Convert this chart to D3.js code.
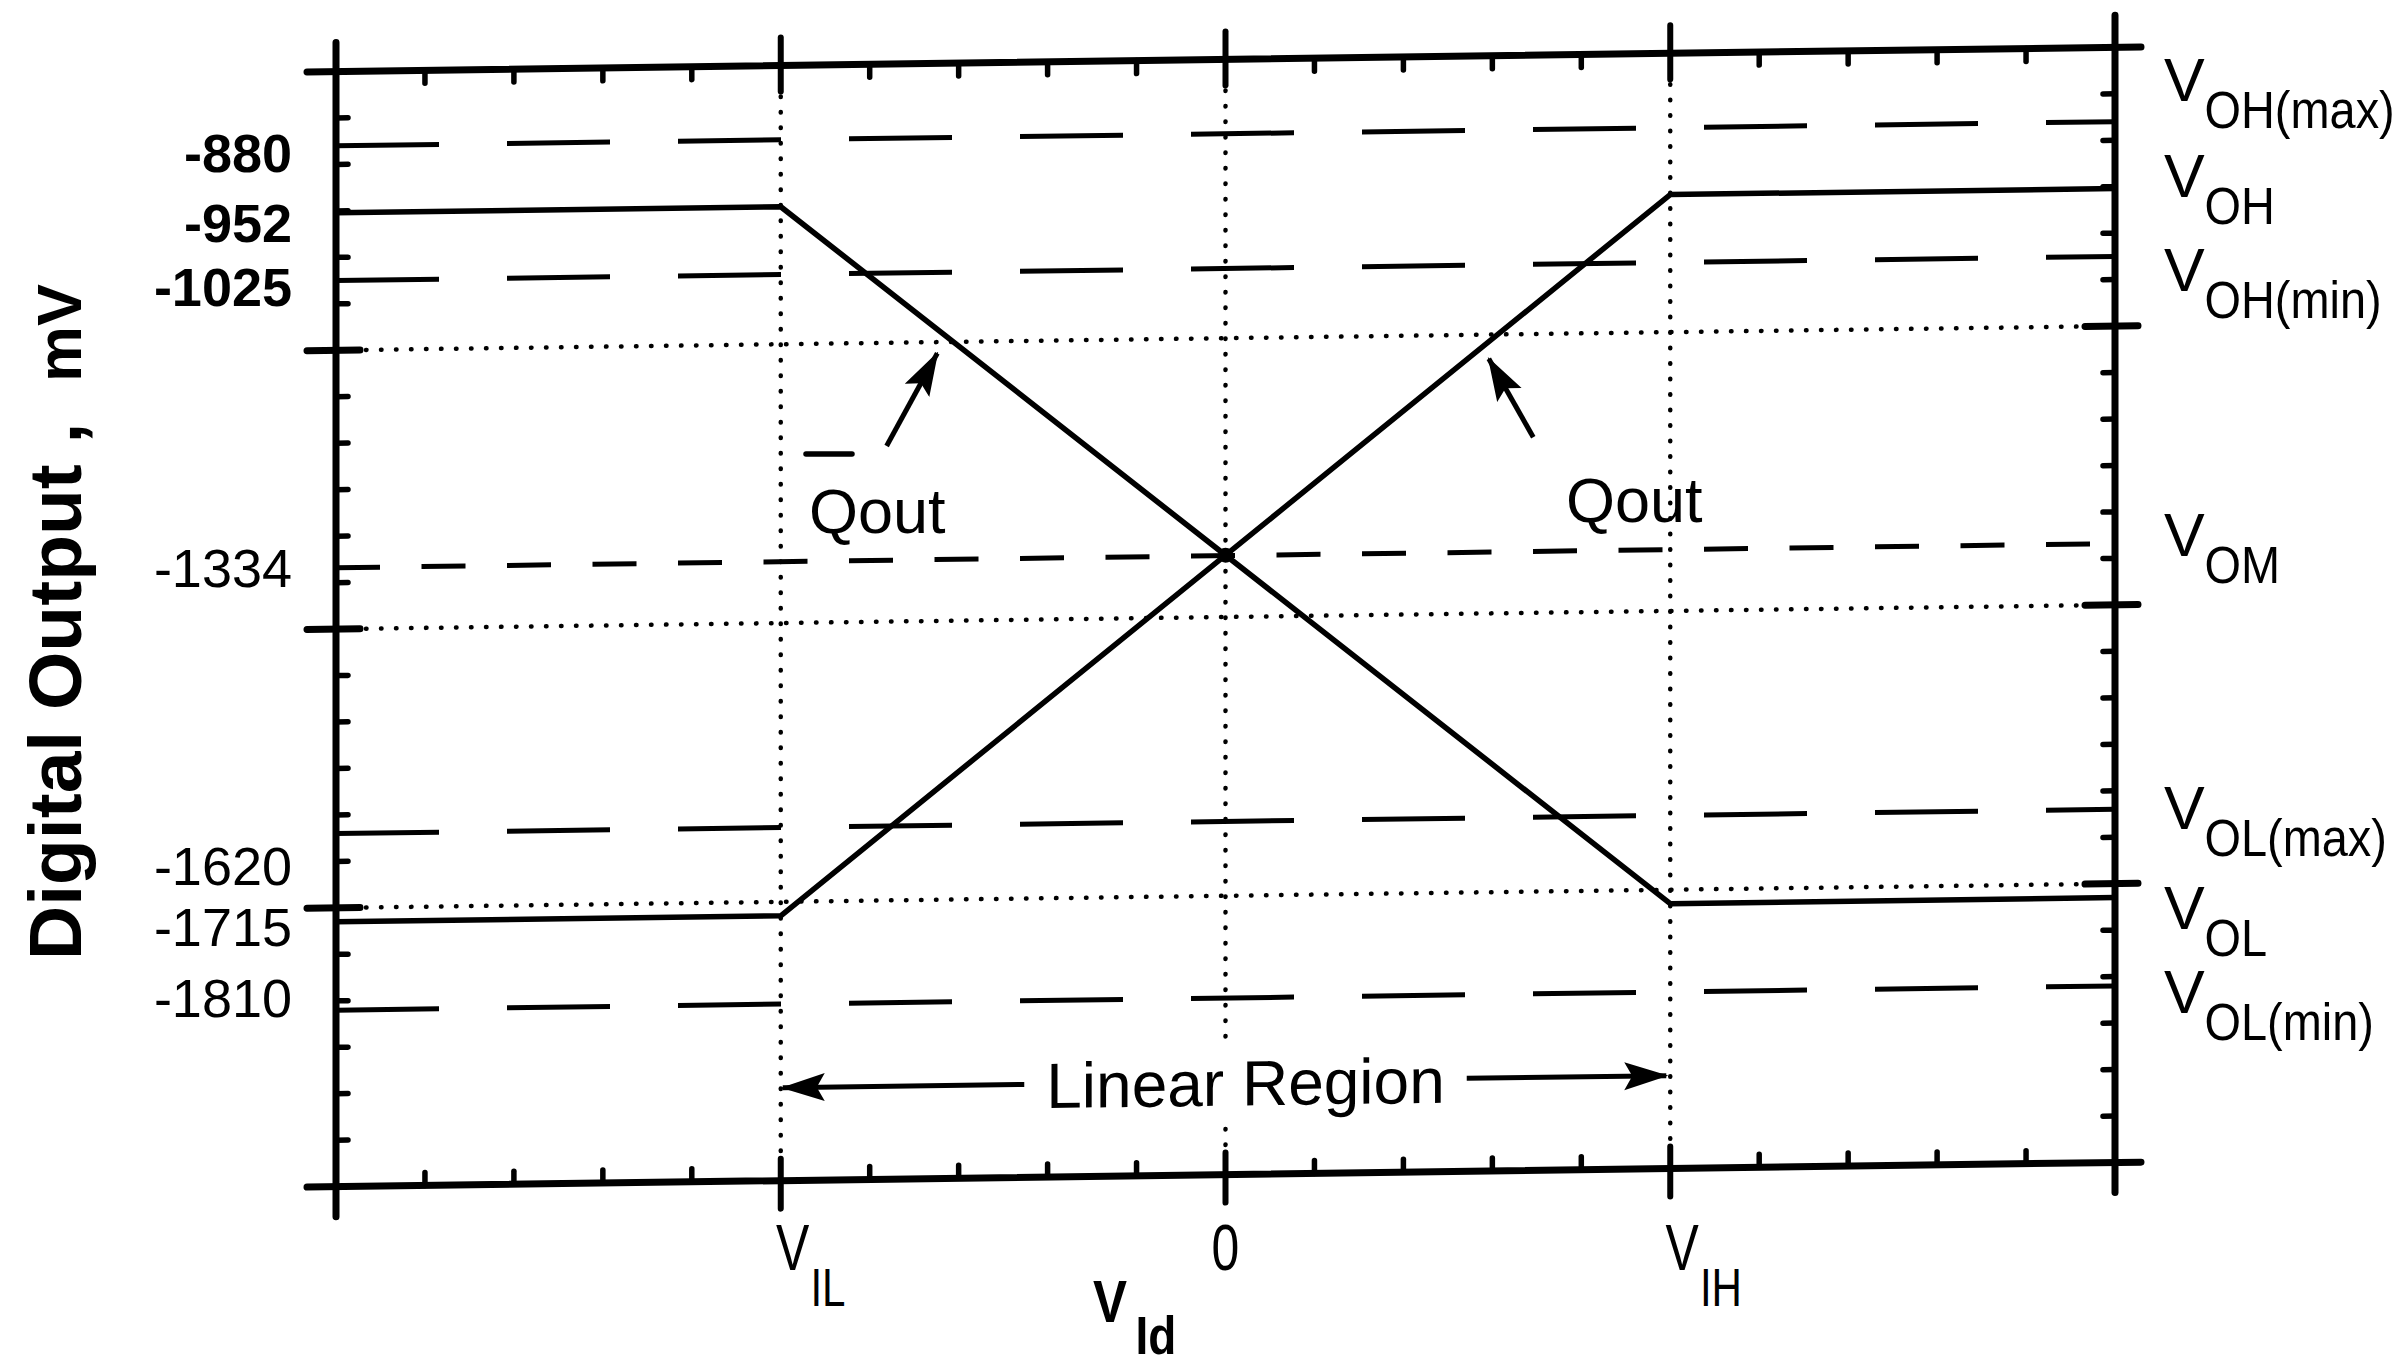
<!DOCTYPE html>
<html>
<head>
<meta charset="utf-8">
<script src="https://cdn.jsdelivr.net/npm/d3@7/dist/d3.min.js"></script>
<style>
  html, body { margin: 0; padding: 0; background: #fff; }
  svg { display: block; }
  text { font-family: "Liberation Sans", Arial, Helvetica, sans-serif; fill: #000; }
</style>
</head>
<body>
<svg id="chart" width="2407" height="1369"></svg>
<script>
// ---- data ---------------------------------------------------------------
// differential input voltage, normalised units (VIL = -5, VIH = +5)
const xDomain = [-10, 10];
const xMajorTicks = [-5, 0, 5];
const xTickMain = ["V", "0", "V"];
const xTickSub = ["IL", "", "IH"];

// output voltage, mV
const yDomain = [-2000, -800];
const yMinorStep = 50;
const yMajorTicks = [-1100, -1400, -1700];

// specified output levels
const levelValues = [-880, -952, -1025, -1334, -1620, -1715, -1810];
const levelTickLabels = ["-880", "-952", "-1025", "-1334", "-1620", "-1715", "-1810"];
const levelNames = ["OH(max)", "OH", "OH(min)", "OM", "OL(max)", "OL", "OL(min)"];
const levelStyles = ["long", "none", "long", "short", "long", "none", "long"];

// transfer curves
const curveX = [-10, -5, 5, 10];
const qoutY = [-1715, -1715, -952, -952];
const qoutBarY = [-952, -952, -1715, -1715];

// ---- layout -------------------------------------------------------------
const svg = d3.select("#chart");
const x = d3.scaleLinear().domain(xDomain).range([336, 2115]);
const y = d3.scaleLinear().domain(yDomain).range([1186.7, 71.5]);
const skewDeg = -0.78;
const skewTan = Math.tan(skewDeg * Math.PI / 180);
const yAtRight = v => y(v) + skewTan * (x(10) - x(-10));

const ink = "#000";
const defs = svg.append("defs");
defs.append("marker")
  .attr("id", "head").attr("viewBox", "0 0 44 30")
  .attr("refX", 42).attr("refY", 15)
  .attr("markerUnits", "userSpaceOnUse")
  .attr("markerWidth", 44).attr("markerHeight", 30)
  .attr("orient", "auto")
  .append("path").attr("d", "M0,1 L44,15 L0,29 L8,15 Z").attr("fill", ink);

const plot = svg.append("g")
  .attr("transform", `translate(${x(-10)},0) skewY(${skewDeg}) translate(${-x(-10)},0)`);

// dotted grid at the major divisions
plot.append("g").selectAll("line").data(yMajorTicks).join("line")
  .attr("x1", x(xDomain[0])).attr("x2", x(xDomain[1]))
  .attr("y1", d => y(d)).attr("y2", d => y(d))
  .attr("stroke", ink).attr("stroke-width", 4.5)
  .attr("stroke-linecap", "round").attr("stroke-dasharray", "0.5 14.5");
plot.append("g").selectAll("line").data(xMajorTicks).join("line")
  .attr("x1", d => x(d)).attr("x2", d => x(d))
  .attr("y1", y(yDomain[1])).attr("y2", y(yDomain[0]))
  .attr("stroke", ink).attr("stroke-width", 4.5)
  .attr("stroke-linecap", "round").attr("stroke-dasharray", "0.5 15");

// dashed specification levels
const levels = levelValues.map((v, i) => ({ v, style: levelStyles[i] }))
  .filter(d => d.style !== "none");
plot.append("g").selectAll("line").data(levels).join("line")
  .attr("x1", x(xDomain[0])).attr("x2", x(xDomain[1]))
  .attr("y1", d => y(d.v)).attr("y2", d => y(d.v))
  .attr("stroke", ink).attr("stroke-width", 5)
  .attr("stroke-dasharray", d => d.style === "long" ? "103 68" : "44 41.5");

// Linear Region annotation (drawn before the curves, over the grid)
const regionY = -1900;
const regionText = plot.append("text")
  .attr("x", x(0) + 20).attr("y", y(regionY) + 24)
  .attr("text-anchor", "middle").attr("font-size", 64)
  .text("Linear Region");
const bb = regionText.node().getBBox();
plot.insert("rect", "text")
  .attr("x", bb.x - 10).attr("y", bb.y - 6)
  .attr("width", bb.width + 20).attr("height", bb.height + 12)
  .attr("fill", "#fff");
plot.append("line")
  .attr("x1", bb.x - 22).attr("x2", x(-5) + 2)
  .attr("y1", y(regionY)).attr("y2", y(regionY))
  .attr("stroke", ink).attr("stroke-width", 5).attr("marker-end", "url(#head)");
plot.append("line")
  .attr("x1", bb.x + bb.width + 22).attr("x2", x(5) - 4)
  .attr("y1", y(regionY)).attr("y2", y(regionY))
  .attr("stroke", ink).attr("stroke-width", 5).attr("marker-end", "url(#head)");

// transfer curves
const line = d3.line().x(d => x(d[0])).y(d => y(d[1]));
[qoutY, qoutBarY].forEach(ys => {
  plot.append("path")
    .attr("d", line(curveX.map((cx, i) => [cx, ys[i]])))
    .attr("fill", "none").attr("stroke", ink)
    .attr("stroke-width", 5.5).attr("stroke-linejoin", "round");
});
plot.append("circle")
  .attr("cx", x(0)).attr("cy", y((qoutY[1] + qoutY[2]) / 2))
  .attr("r", 7.5).attr("fill", ink);

// pointers to the curves
const pointers = [
  { from: [-3.81, -1211], to: [-3.24, -1112] },
  { from: [3.46, -1211], to: [2.96, -1126] }
];
plot.append("g").selectAll("line").data(pointers).join("line")
  .attr("x1", d => x(d.from[0])).attr("y1", d => y(d.from[1]))
  .attr("x2", d => x(d.to[0])).attr("y2", d => y(d.to[1]))
  .attr("stroke", ink).attr("stroke-width", 5).attr("marker-end", "url(#head)");

// frame: axes lines extend a little past the corners
const frame = plot.append("g").attr("stroke", ink).attr("stroke-linecap", "round");
const xl = x(xDomain[0]), xr = x(xDomain[1]), yt = y(yDomain[1]), yb = y(yDomain[0]);
[[xl - 29, yt, xr + 26, yt], [xl - 29, yb, xr + 26, yb],
 [xl, yt - 29, xl, yb + 30], [xr, yt - 32, xr, yb + 30]].forEach(s => {
  frame.append("line").attr("x1", s[0]).attr("y1", s[1]).attr("x2", s[2]).attr("y2", s[3])
    .attr("stroke-width", 7);
});

// x ticks
const xMinor = d3.range(xDomain[0] + 1, xDomain[1]).filter(v => !xMajorTicks.includes(v));
frame.append("g").selectAll("line").data(xMinor).join("line")
  .attr("x1", d => x(d)).attr("x2", d => x(d))
  .attr("y1", yt).attr("y2", yt + 13).attr("stroke-width", 5.5);
frame.append("g").selectAll("line").data(xMinor).join("line")
  .attr("x1", d => x(d)).attr("x2", d => x(d))
  .attr("y1", yb).attr("y2", yb - 13).attr("stroke-width", 5.5);
frame.append("g").selectAll("line").data(xMajorTicks).join("line")
  .attr("x1", d => x(d)).attr("x2", d => x(d))
  .attr("y1", yt - 28).attr("y2", yt + 26).attr("stroke-width", 6);
frame.append("g").selectAll("line").data(xMajorTicks).join("line")
  .attr("x1", d => x(d)).attr("x2", d => x(d))
  .attr("y1", yb - 22).attr("y2", yb + 28).attr("stroke-width", 6);

// y ticks
const yMinor = d3.range(yDomain[0] + yMinorStep, yDomain[1], yMinorStep)
  .filter(v => !yMajorTicks.includes(v));
frame.append("g").selectAll("line").data(yMinor).join("line")
  .attr("x1", xl).attr("x2", xl + 12)
  .attr("y1", d => y(d)).attr("y2", d => y(d)).attr("stroke-width", 5.5);
frame.append("g").selectAll("line").data(yMinor).join("line")
  .attr("x1", xr).attr("x2", xr - 12)
  .attr("y1", d => y(d)).attr("y2", d => y(d)).attr("stroke-width", 5.5);
frame.append("g").selectAll("line").data(yMajorTicks).join("line")
  .attr("x1", xl - 29).attr("x2", xl + 24)
  .attr("y1", d => y(d)).attr("y2", d => y(d)).attr("stroke-width", 7);
frame.append("g").selectAll("line").data(yMajorTicks).join("line")
  .attr("x1", xr - 30).attr("x2", xr + 23)
  .attr("y1", d => y(d)).attr("y2", d => y(d)).attr("stroke-width", 7);

// curve names (left one is the complement, Q-bar)
svg.append("text").attr("x", 809).attr("y", 533)
  .attr("font-size", 63).text("Qout");
svg.append("line").attr("x1", 806).attr("x2", 852).attr("y1", 454).attr("y2", 454)
  .attr("stroke", ink).attr("stroke-width", 5.5).attr("stroke-linecap", "round");
svg.append("text").attr("x", 1566).attr("y", 522)
  .attr("font-size", 63).text("Qout");

// ---- text outside the plot ----------------------------------------------
// left value labels, nudged clear of one another
const leftNudge = [26, 29, 25, 19, 51, 24, 7];
svg.append("g").selectAll("text").data(levelValues).join("text")
  .attr("x", 292).attr("y", (d, i) => y(d) + leftNudge[i])
  .attr("text-anchor", "end").attr("font-size", 54)
  .attr("font-weight", (d, i) => i < 3 ? "bold" : "normal")
  .text((d, i) => levelTickLabels[i]);

// right level names
const rightNudge = [-21, 8, 35, 12, 20, 31, 27];
const rg = svg.append("g").selectAll("g").data(levelValues).join("g")
  .attr("transform", (d, i) => `translate(2164,${yAtRight(d) + rightNudge[i]})`);
rg.append("text").attr("font-size", 61).text("V");
rg.append("text").attr("x", 44).attr("y", 27).attr("font-size", 51)
  .attr("transform", "scale(0.92,1)")
  .text((d, i) => levelNames[i]);

// x tick labels
const xg = svg.append("g").selectAll("g").data(xMajorTicks).join("g")
  .attr("transform", d => `translate(${x(d)},1270)`);
xg.append("text").attr("x", (d, i) => xTickSub[i] ? -6 : 0)
  .attr("text-anchor", (d, i) => xTickSub[i] ? "start" : "middle")
  .attr("font-size", 64).attr("transform", "scale(0.78,1)")
  .text((d, i) => xTickMain[i]);
xg.append("text").attr("x", 38).attr("y", 36)
  .attr("font-size", 54).attr("transform", "scale(0.78,1)")
  .text((d, i) => xTickSub[i]);

// axis titles
const xt = svg.append("g").attr("transform", "translate(1093,1322)");
xt.append("text").attr("font-size", 60).attr("font-weight", "bold")
  .attr("transform", "scale(0.85,1)").text("V");
xt.append("text").attr("x", 50).attr("y", 32).attr("font-size", 54).attr("font-weight", "bold")
  .attr("transform", "scale(0.85,1)").text("Id");

const yt1 = svg.append("g").attr("transform", "translate(81,960) rotate(-90)");
yt1.append("text").attr("font-size", 75).attr("font-weight", "bold").text("Digital Output ,");
const yt2 = svg.append("g").attr("transform", "translate(81,284) rotate(-90)");
yt2.append("text").attr("font-size", 63).attr("font-weight", "bold")
  .attr("text-anchor", "end").text("mV");
</script>
</body>
</html>
